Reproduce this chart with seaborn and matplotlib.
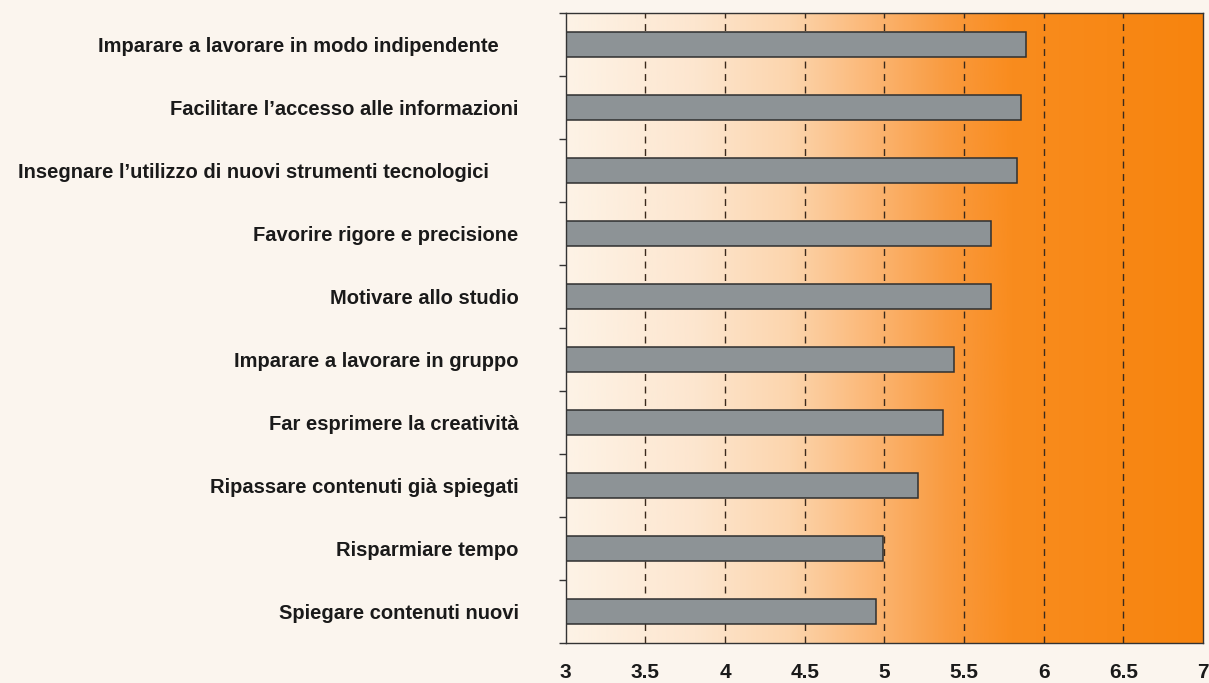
import numpy as np
import matplotlib
matplotlib.use("Agg")
import matplotlib.pyplot as plt
import matplotlib.transforms as mtransforms
from matplotlib.colors import LinearSegmentedColormap
import pandas as pd
import seaborn as sns

sns.set_theme(style="white")
plt.rcParams['font.family'] = ['Liberation Sans', 'DejaVu Sans']

# Data
categories = [
    "Imparare a lavorare in modo indipendente",
    "Facilitare l’accesso alle informazioni",
    "Insegnare l’utilizzo di nuovi strumenti tecnologici",
    "Favorire rigore e precisione",
    "Motivare allo studio",
    "Imparare a lavorare in gruppo",
    "Far esprimere la creatività",
    "Ripassare contenuti già spiegati",
    "Risparmiare tempo",
    "Spiegare contenuti nuovi",
]
scores = [5.89, 5.86, 5.83, 5.67, 5.67, 5.44, 5.37, 5.21, 4.99, 4.95]
x_ticks = [3, 3.5, 4, 4.5, 5, 5.5, 6, 6.5, 7]
x_tick_labels = ["3", "3.5", "4", "4.5", "5", "5.5", "6", "6.5", "7"]

df = pd.DataFrame({"categoria": categories, "punteggio": scores})

BG = "#fbf5ee"
fig = plt.figure(figsize=(12.09, 6.83), dpi=100, facecolor=BG)
ax = fig.add_axes([0.468, 0.059, 0.527, 0.922])

# gradient background (pale cream -> orange)
grad_cmap = LinearSegmentedColormap.from_list(
    "bg", [(0.0, "#fdf3e6"), (0.2, "#fde6cf"), (0.35, "#fcd5ad"),
           (0.48, "#fbb674"), (0.6, "#f99a3e"), (0.7, "#f98c1e"),
           (1.0, "#f7840e")])
grad = np.linspace(0, 1, 400).reshape(1, -1)
n = len(categories)
ax.imshow(grad, cmap=grad_cmap, aspect="auto",
          extent=[3, 7, n - 0.5, -0.5], zorder=0, interpolation="bicubic")

sns.barplot(data=df, x="punteggio", y="categoria", orient="h", ax=ax,
            color="#8d9396", width=0.4, edgecolor="#2f2f2f", linewidth=1.1,
            saturation=1, zorder=2)

ax.set_xlim(3, 7)
ax.set_ylim(n - 0.5, -0.5)

# dashed vertical gridlines
for xv in x_ticks[1:-1]:
    ax.axvline(xv, color="#3b2a1c", lw=1.0, ls=(0, (5, 4)), zorder=1)

ax.set_xticks(x_ticks)
ax.set_xticklabels(x_tick_labels, fontsize=15, fontweight="bold", color="#1a1a1a")
ax.tick_params(axis="x", direction="inout", length=9, width=1, color="#333333", pad=10)

ax.set_yticks(range(n))
ax.set_yticklabels(categories, fontsize=14.5, fontweight="bold", color="#1a1a1a")
ax.set_yticks(np.arange(-0.5, n, 1), minor=True)
ax.tick_params(axis="y", which="major", length=0, pad=34)
ax.tick_params(axis="y", which="minor", left=True, length=5, width=1, color="#333333")

# small shifts of the first labels, as in the original layout
shifts = [-20, 0, -30]
for lab, dx in zip(ax.get_yticklabels(), shifts):
    lab.set_transform(lab.get_transform() +
                      mtransforms.ScaledTranslation(dx / 100, 0, fig.dpi_scale_trans))

ax.set_xlabel("")
ax.set_ylabel("")
for s in ax.spines.values():
    s.set_visible(True)
    s.set_color("#333333")
    s.set_linewidth(1.0)

fig.savefig("out.png", dpi=100, facecolor=BG)
